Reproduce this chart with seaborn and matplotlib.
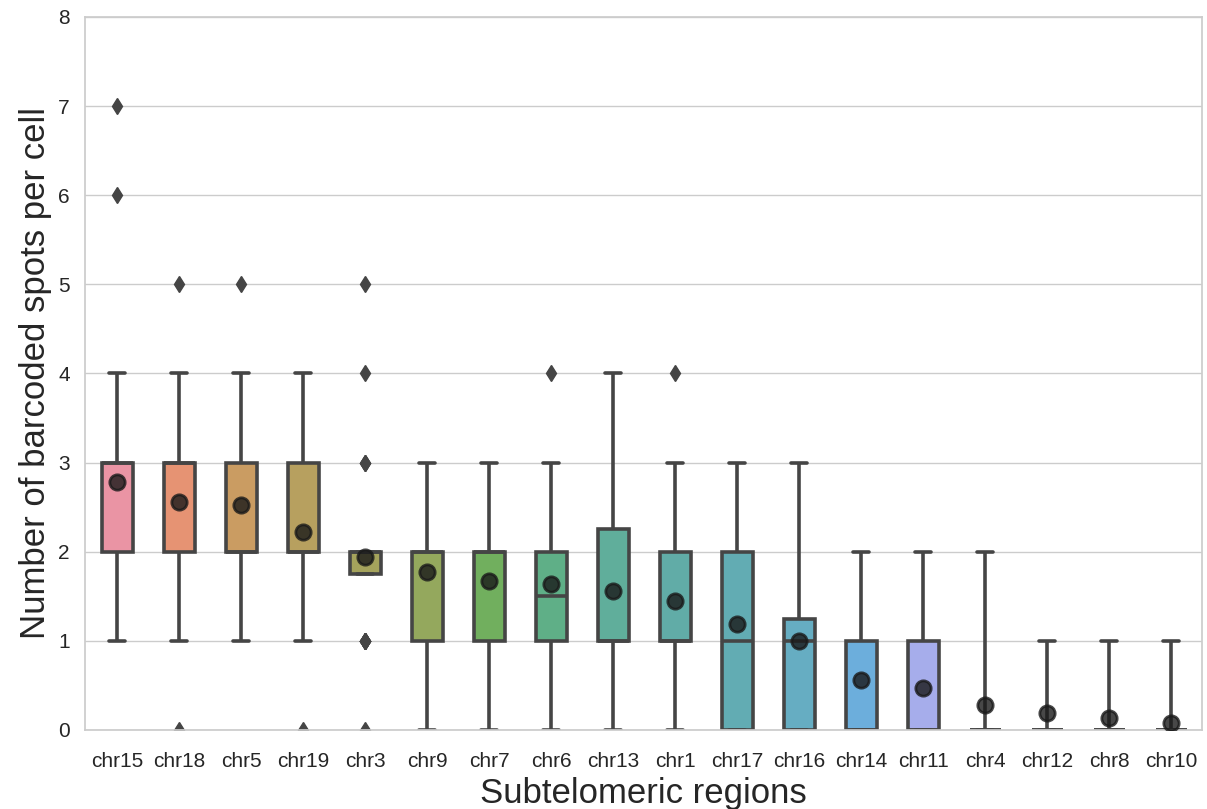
import numpy as np
import pandas as pd
import matplotlib.pyplot as plt
import seaborn as sns

# Subtelomeric regions, in plotting order
regions = ['chr15', 'chr18', 'chr5', 'chr19', 'chr3', 'chr9', 'chr7', 'chr6', 'chr13',
           'chr1', 'chr17', 'chr16', 'chr14', 'chr11', 'chr4', 'chr12', 'chr8', 'chr10']

# Possible number of barcoded spots in a cell
spot_values = [0, 1, 2, 3, 4, 5, 6, 7]

# Number of cells showing 0, 1, 2, ... spots (36 cells per region)
chr15 = [0, 2, 15, 13, 4, 0, 1, 1]
chr18 = [1, 3, 12, 16, 3, 1, 0, 0]
chr5 = [0, 3, 16, 13, 3, 1, 0, 0]
chr19 = [1, 5, 17, 11, 2, 0, 0, 0]
chr3 = [1, 8, 22, 3, 1, 1, 0, 0]
chr9 = [4, 6, 20, 6, 0, 0, 0, 0]
chr7 = [4, 9, 18, 5, 0, 0, 0, 0]
chr6 = [4, 14, 10, 7, 1, 0, 0, 0]
chr13 = [7, 12, 8, 8, 1, 0, 0, 0]
chr1 = [6, 14, 11, 4, 1, 0, 0, 0]
chr17 = [12, 9, 11, 4, 0, 0, 0, 0]
chr16 = [12, 15, 6, 3, 0, 0, 0, 0]
chr14 = [20, 12, 4, 0, 0, 0, 0, 0]
chr11 = [22, 11, 3, 0, 0, 0, 0, 0]
chr4 = [28, 6, 2, 0, 0, 0, 0, 0]
chr12 = [29, 7, 0, 0, 0, 0, 0, 0]
chr8 = [31, 5, 0, 0, 0, 0, 0, 0]
chr10 = [33, 3, 0, 0, 0, 0, 0, 0]

counts = [chr15, chr18, chr5, chr19, chr3, chr9, chr7, chr6, chr13,
          chr1, chr17, chr16, chr14, chr11, chr4, chr12, chr8, chr10]

# Build long-form table, one row per cell
rows = []
for name, c in zip(regions, counts):
    for v in np.repeat(spot_values, c):
        rows.append((name, v))
df = pd.DataFrame(rows, columns=['region', 'spots'])

# regions whose IQR is zero get whiskers over the full range (old matplotlib behaviour)
flat = [r for r in regions
        if np.subtract(*np.percentile(df.loc[df.region == r, 'spots'], [75, 25])) == 0]

sns.set_theme(style='whitegrid')
plt.rcParams['font.family'] = ['Liberation Sans', 'DejaVu Sans']

# husl palette, desaturated and a touch lighter like the original
colors = [sns.desaturate(c, .75) for c in sns.color_palette('husl', len(regions))]
colors = [tuple(0.85 * np.array(c) + 0.15) for c in colors]
palette = dict(zip(regions, colors))

box_kw = dict(x='region', y='spots', hue='region', order=regions, palette=palette,
              saturation=1, legend=False, width=0.5, linewidth=2.6, linecolor='.27',
              flierprops=dict(marker='d', markerfacecolor='.27', markeredgecolor='.27',
                              markersize=8))

fig, ax = plt.subplots(figsize=(12.07, 8.09), dpi=100)
sns.boxplot(data=df[~df.region.isin(flat)], ax=ax, **box_kw)
sns.boxplot(data=df[df.region.isin(flat)], ax=ax, whis=(0, 100), **box_kw)

# mean per region
sns.pointplot(data=df, x='region', y='spots', order=regions, estimator='mean',
              errorbar=None, linestyle='none', color='#1a1a1a', markersize=11,
              alpha=0.8, zorder=10, ax=ax)

ax.set_ylim(0, 8)
ax.set_xlim(-0.52, len(regions) - 0.5)
ax.set_xlabel('Subtelomeric regions', fontsize=25, color='.15')
ax.set_ylabel('Number of barcoded spots per cell', fontsize=25, color='.15')
ax.tick_params(axis='both', labelsize=15, colors='.15')
ax.tick_params(axis='y', pad=5)
ax.tick_params(axis='x', pad=10)
ax.xaxis.grid(False)

plt.subplots_adjust(left=0.0704, right=0.996, top=0.979, bottom=0.0977)
plt.savefig('out.png', dpi=100)
plt.close()
